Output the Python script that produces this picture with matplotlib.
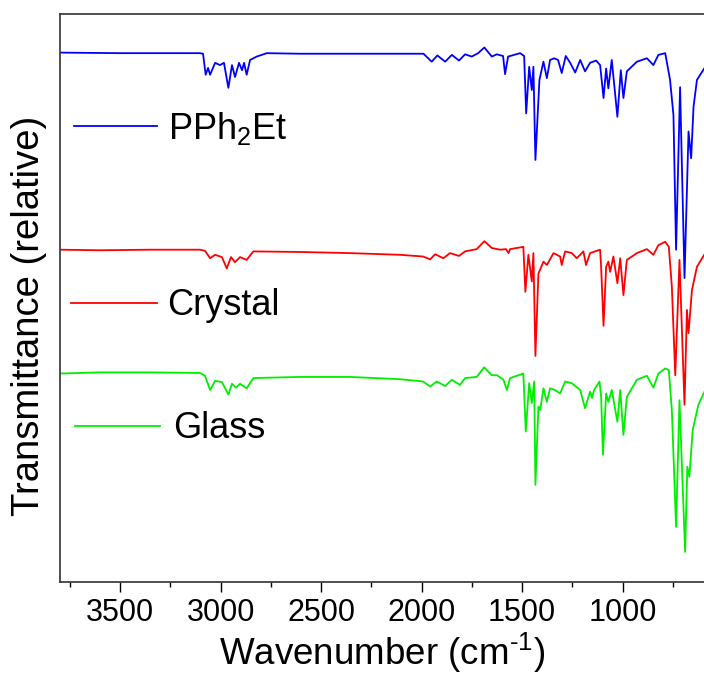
import matplotlib
matplotlib.use('Agg')
import matplotlib.pyplot as plt
from matplotlib.ticker import MultipleLocator

plt.rcParams['font.family'] = ['Liberation Sans', 'DejaVu Sans']
plt.rcParams['mathtext.fontset'] = 'custom'
plt.rcParams['mathtext.rm'] = 'Liberation Sans'
plt.rcParams['mathtext.it'] = 'Liberation Sans'

# FTIR spectra, offset vertically (arbitrary transmittance units)
pph2et_wn = [3800, 3501, 3103, 3088, 3075, 3063, 3053, 3028, 3004, 2984, 2962, 2944,
             2929, 2909, 2894, 2884, 2871, 2854, 2821, 2771, 2605, 2356, 2107, 1991,
             1950, 1922, 1883, 1850, 1814, 1784, 1751, 1719, 1688, 1651, 1626, 1595,
             1585, 1570, 1510, 1490, 1480, 1465, 1452, 1444, 1434, 1414, 1394, 1377,
             1361, 1341, 1321, 1303, 1283, 1261, 1236, 1211, 1187, 1162, 1132, 1112,
             1095, 1082, 1071, 1054, 1026, 1009, 996, 979, 929, 879, 847, 822, 788,
             764, 747, 734, 714, 692, 672, 659, 647, 630, 594]
pph2et_t = [93.2, 93.1, 93.1, 93.0, 89.3, 90.5, 89.3, 91.4, 91.0, 91.4, 87.0, 91.0,
            88.9, 91.4, 90.1, 91.4, 89.3, 91.9, 92.5, 93.1, 93.0, 93.0, 93.0, 93.0,
            91.6, 92.7, 91.6, 92.8, 91.8, 92.9, 92.5, 93.1, 94.1, 92.5, 92.9, 92.6,
            89.4, 92.5, 93.1, 92.6, 82.5, 90.7, 86.6, 90.7, 74.3, 88.4, 91.6, 88.7,
            91.9, 92.2, 91.9, 89.6, 92.6, 91.4, 89.7, 91.9, 89.9, 91.4, 91.8, 91.0,
            85.2, 90.4, 86.9, 91.9, 81.9, 90.1, 85.2, 89.9, 91.6, 92.2, 91.0, 92.8,
            93.1, 88.4, 82.2, 58.5, 87.1, 53.5, 79.3, 74.6, 83.7, 88.4, 90.4]

crystal_wn = [3800, 3601, 3352, 3103, 3078, 3053, 3028, 2994, 2970, 2949, 2929, 2904,
              2871, 2838, 2605, 2356, 2107, 1993, 1958, 1933, 1892, 1859, 1814, 1784,
              1726, 1688, 1651, 1610, 1580, 1568, 1560, 1494, 1484, 1469, 1452, 1444,
              1434, 1419, 1394, 1377, 1344, 1311, 1303, 1286, 1253, 1228, 1195, 1182,
              1162, 1112, 1107, 1095, 1082, 1071, 1062, 1046, 1026, 1012, 996, 979,
              929, 879, 847, 822, 788, 770, 755, 738, 717, 692, 680, 672, 655, 630, 594]
crystal_t = [58.5, 58.4, 58.5, 58.5, 58.3, 57.0, 57.6, 57.2, 55.2, 57.2, 56.3, 57.2,
             56.7, 58.2, 58.1, 57.9, 57.6, 57.3, 56.8, 57.7, 57.0, 57.9, 57.4, 58.2,
             58.6, 60.0, 58.8, 58.5, 58.6, 57.9, 58.6, 59.0, 51.1, 57.6, 52.9, 57.9,
             39.8, 54.3, 56.4, 55.8, 57.9, 57.3, 55.8, 58.2, 57.9, 57.0, 58.2, 55.8,
             57.9, 58.5, 55.5, 45.1, 55.5, 56.4, 54.6, 57.3, 52.6, 57.0, 50.5, 56.7,
             57.9, 58.6, 57.6, 59.3, 59.9, 59.0, 52.0, 36.4, 56.7, 31.2, 47.9, 43.8,
             51.4, 55.5, 57.6]

glass_wn = [3800, 3601, 3352, 3103, 3078, 3053, 3028, 2994, 2962, 2944, 2924, 2904,
            2871, 2838, 2605, 2356, 2107, 1993, 1958, 1925, 1883, 1850, 1809, 1784,
            1726, 1689, 1651, 1625, 1593, 1576, 1560, 1494, 1482, 1465, 1452, 1440,
            1434, 1419, 1410, 1394, 1377, 1361, 1336, 1311, 1286, 1253, 1211, 1187,
            1162, 1152, 1142, 1115, 1107, 1098, 1082, 1071, 1054, 1026, 1012, 996,
            979, 929, 879, 847, 822, 788, 770, 755, 734, 717, 689, 678, 668, 651,
            623, 594]
glass_t = [36.7, 36.9, 36.9, 36.8, 36.3, 33.8, 35.4, 35.2, 33.0, 34.9, 34.2, 34.9,
           34.1, 35.9, 36.1, 36.1, 35.7, 35.3, 34.4, 35.3, 34.5, 35.6, 34.7, 35.9,
           36.1, 37.8, 36.4, 36.4, 35.6, 33.8, 35.9, 36.7, 26.5, 35.0, 31.5, 35.3,
           17.1, 30.9, 30.3, 34.1, 31.7, 34.1, 33.8, 33.2, 35.3, 35.0, 33.8, 30.6,
           33.5, 32.4, 33.8, 35.3, 32.7, 22.4, 33.2, 31.7, 33.8, 28.2, 33.8, 25.9,
           32.6, 35.6, 36.3, 34.2, 36.7, 37.6, 37.3, 30.2, 9.7, 32.0, 5.3, 20.3,
           18.5, 26.8, 31.2, 33.4]

labels = ['PPh$_2$Et', 'Crystal', 'Glass']
colors = ['#0000ff', '#ff0000', '#00ee00']

fig = plt.figure(figsize=(7.04, 6.75), dpi=100)
ax = fig.add_axes([0.0852, 0.1378, 0.9148, 0.8415])

ax.plot(pph2et_wn, pph2et_t, color=colors[0], lw=1.3)
ax.plot(crystal_wn, crystal_t, color=colors[1], lw=1.3)
ax.plot(glass_wn, glass_t, color=colors[2], lw=1.3)

# hand placed labels next to each trace
key_lines = [(0.021, 0.150, 0.802), (0.017, 0.150, 0.492), (0.023, 0.156, 0.275)]
key_text = [(0.168, 0.780), (0.167, 0.470), (0.176, 0.254)]
for (x0, x1, y), (tx, ty), lab, col in zip(key_lines, key_text, labels, colors):
    ax.plot([x0, x1], [y, y], color=col, lw=1.3, transform=ax.transAxes)
    ax.text(tx, ty, lab, transform=ax.transAxes, fontsize=26, va='baseline')

ax.set_xlim(3800, 595)
ax.set_ylim(0, 100)
ax.xaxis.set_major_locator(MultipleLocator(500))
ax.xaxis.set_minor_locator(MultipleLocator(250))
ax.tick_params(axis='x', which='major', direction='out', length=7.5, width=1,
               labelsize=22, pad=4)
ax.tick_params(axis='x', which='minor', direction='out', length=3.4, width=1)
ax.set_yticks([])

for side in ['left', 'top', 'bottom']:
    ax.spines[side].set_color('#404040')
    ax.spines[side].set_linewidth(1.3)
ax.spines['right'].set_visible(False)

ax.set_xlabel('Wavenumber (cm$^{\u20101}$)', fontsize=26.5, labelpad=2)
ax.set_ylabel('Transmittance (relative)', fontsize=27.5)
ax.yaxis.set_label_coords(-0.02, 0.468)

fig.savefig('out.png', dpi=100)
